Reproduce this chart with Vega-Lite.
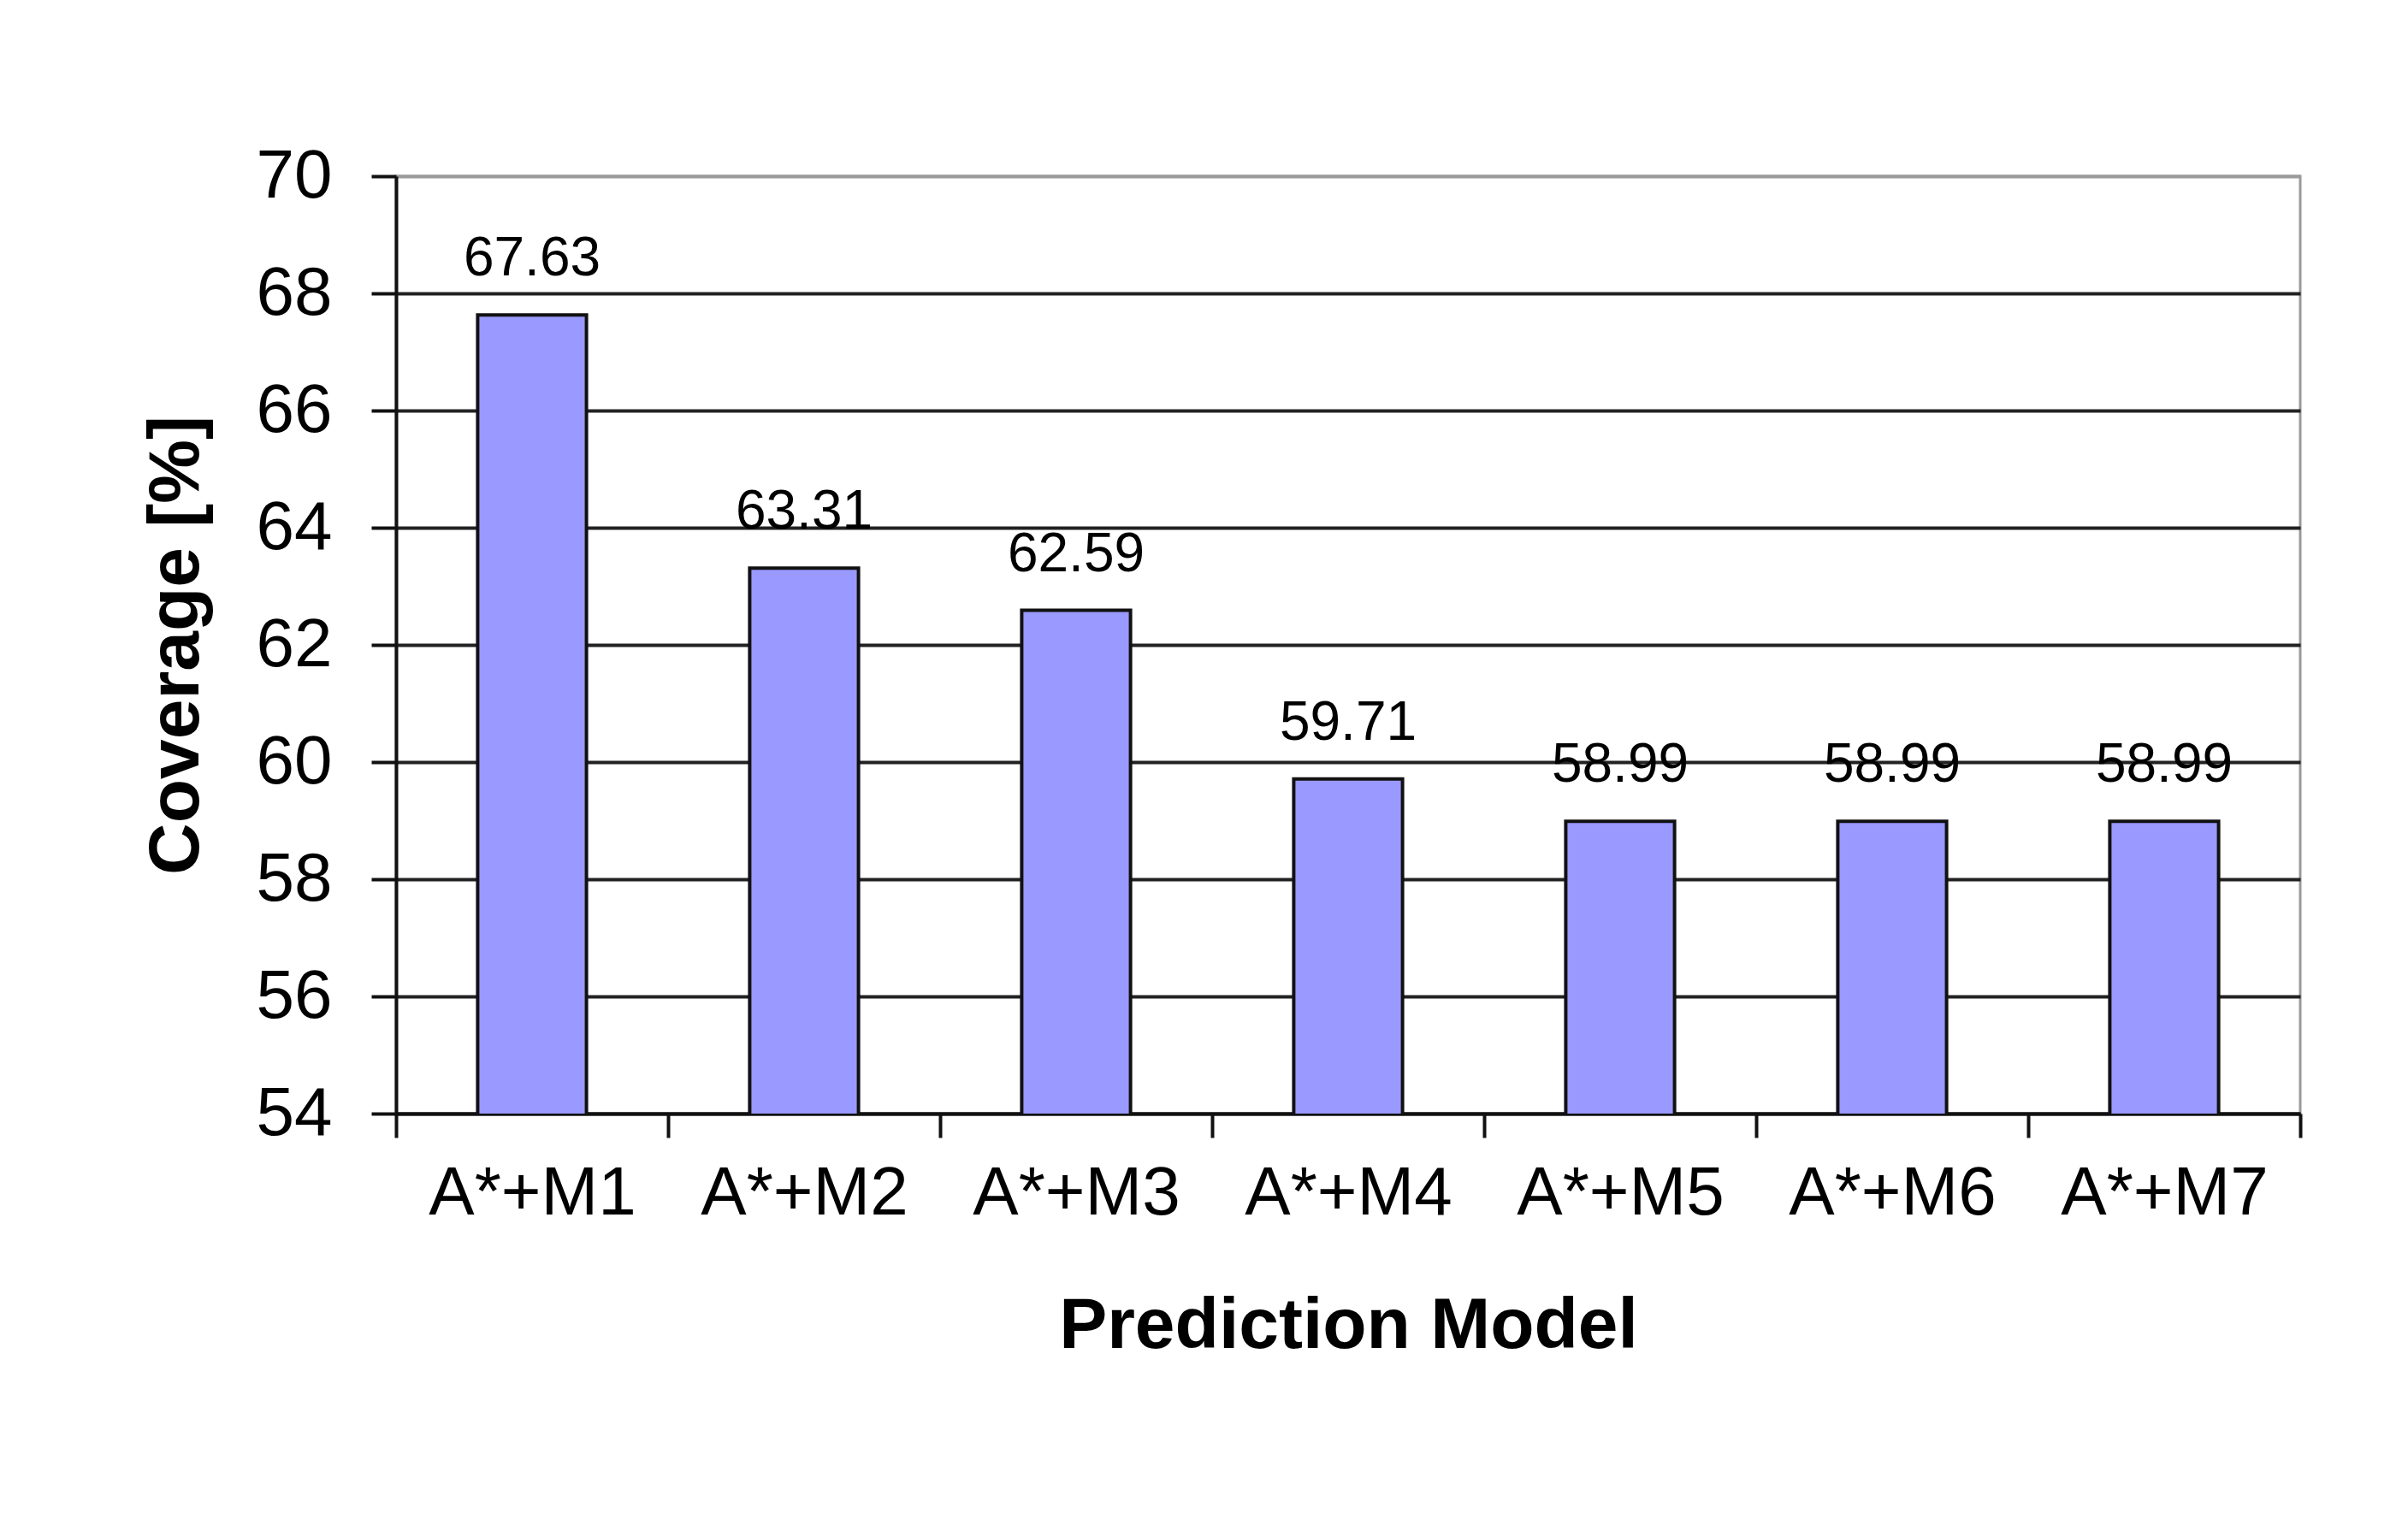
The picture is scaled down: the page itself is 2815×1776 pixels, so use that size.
{
  "$schema": "https://vega.github.io/schema/vega-lite/v6.json",
  "autosize": {"type": "none"},
  "width": 2226,
  "height": 1096,
  "padding": {"left": 463, "top": 206, "right": 126, "bottom": 474},
  "background": "white",
  "config": {
    "font": "Liberation Sans",
    "view": {"stroke": "#9a9a9a", "strokeWidth": 3}
  },
  "data": {
    "values": [
      {"model": "A*+M1", "coverage": 67.63},
      {"model": "A*+M2", "coverage": 63.31},
      {"model": "A*+M3", "coverage": 62.59},
      {"model": "A*+M4", "coverage": 59.71},
      {"model": "A*+M5", "coverage": 58.99},
      {"model": "A*+M6", "coverage": 58.99},
      {"model": "A*+M7", "coverage": 58.99}
    ]
  },
  "encoding": {
    "x": {
      "field": "model",
      "type": "nominal",
      "sort": null,
      "scale": {"paddingInner": 0, "paddingOuter": 0},
      "axis": {
        "title": "Prediction Model",
        "titleFont": "Liberation Sans",
        "titleFontSize": 84,
        "titleFontWeight": "bold",
        "titleColor": "black",
        "titlePadding": 74,
        "labelAngle": 0,
        "labelFontSize": 80,
        "labelColor": "black",
        "labelPadding": 26,
        "labelLimit": 0,
        "tickBand": "extent",
        "tickSize": 28,
        "tickWidth": 4,
        "tickColor": "#111",
        "domainColor": "#111",
        "domainWidth": 4,
        "grid": false
      }
    },
    "y": {
      "field": "coverage",
      "type": "quantitative",
      "scale": {"domain": [54, 70], "zero": false, "nice": false},
      "axis": {
        "title": "Coverage [%]",
        "titleFont": "Liberation Sans",
        "titleFontSize": 84,
        "titleFontWeight": "bold",
        "titleColor": "black",
        "titlePadding": 50,
        "values": [54, 56, 58, 60, 62, 64, 66, 68, 70],
        "labelFontSize": 80,
        "labelColor": "black",
        "labelPadding": 46,
        "tickSize": 29,
        "tickWidth": 4,
        "tickColor": "#111",
        "domainColor": "#111",
        "domainWidth": 4,
        "grid": true,
        "gridColor": {"condition": {"test": "datum.value === 70", "value": "#9a9a9a"}, "value": "#222"},
        "gridWidth": 4,
        "gridOpacity": 1
      }
    }
  },
  "layer": [
    {
      "mark": {"type": "bar", "clip": true, "width": {"band": 0.4}, "fill": "#9999FF", "stroke": "#111", "strokeWidth": 4}
    },
    {
      "mark": {"type": "text", "baseline": "alphabetic", "dy": -46, "fontSize": 64, "color": "black", "font": "Liberation Sans"},
      "encoding": {"text": {"field": "coverage", "type": "quantitative", "format": ".2f"}}
    }
  ]
}
